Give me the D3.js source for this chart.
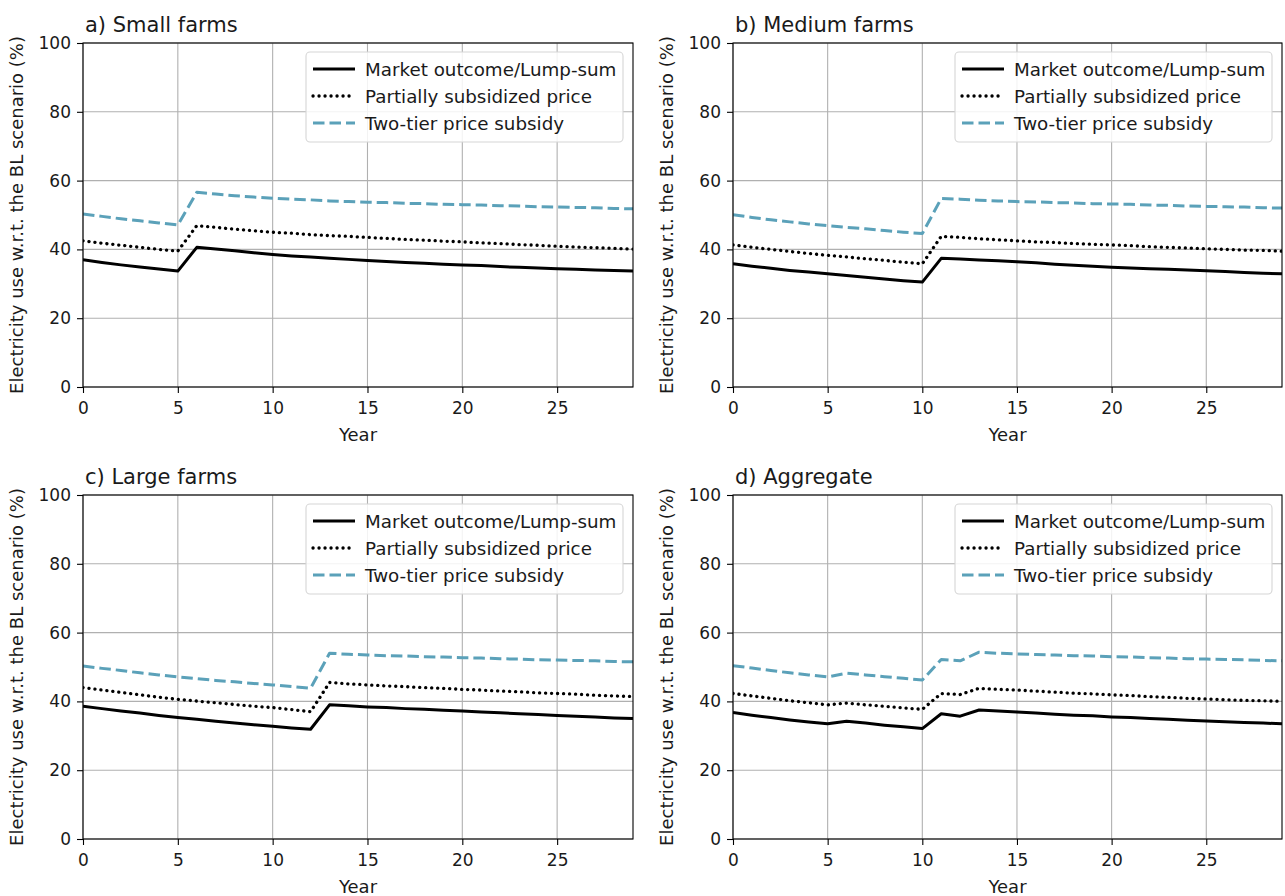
<!DOCTYPE html>
<html>
<head>
<meta charset="utf-8">
<script src="https://cdn.jsdelivr.net/npm/d3@7"></script>
<style>
  html, body { margin: 0; padding: 0; background: #fff; }
  svg { display: block; font-family: "DejaVu Sans", sans-serif; }
</style>
</head>
<body>
<svg id="chart" width="1285" height="896"></svg>
<script>
// Simulation horizon (years)
const years = [0, 1, 2, 3, 4, 5, 6, 7, 8, 9, 10, 11, 12, 13, 14, 15, 16, 17, 18, 19,
               20, 21, 22, 23, 24, 25, 26, 27, 28, 29];

// Electricity use relative to the BL scenario (%), per farm group and policy
const smallMarket = [37.0, 36.2, 35.5, 34.9, 34.3, 33.7, 40.6, 40.1, 39.6, 39.0, 38.5, 38.1, 37.8, 37.4, 37.1,
                     36.8, 36.5, 36.2, 36.0, 35.7, 35.5, 35.3, 35.0, 34.8, 34.6, 34.4, 34.2, 34.0, 33.9, 33.7];
const smallPartial = [42.5, 41.8, 41.2, 40.6, 40.0, 39.5, 46.9, 46.4, 45.9, 45.4, 45.0, 44.7, 44.3, 44.0, 43.8,
                      43.5, 43.2, 42.9, 42.7, 42.4, 42.2, 41.9, 41.7, 41.4, 41.2, 40.9, 40.7, 40.5, 40.3, 40.1];
const smallTwoTier = [50.3, 49.6, 48.9, 48.3, 47.7, 47.1, 56.6, 56.1, 55.6, 55.2, 54.9, 54.6, 54.4, 54.1, 53.9,
                      53.7, 53.6, 53.4, 53.3, 53.1, 53.0, 52.9, 52.7, 52.6, 52.4, 52.3, 52.2, 52.1, 51.9, 51.8];

const mediumMarket = [35.8, 35.1, 34.5, 33.9, 33.4, 32.9, 32.4, 31.9, 31.4, 30.9, 30.5, 37.4, 37.2, 36.9, 36.7,
                      36.4, 36.1, 35.7, 35.4, 35.1, 34.8, 34.6, 34.4, 34.2, 34.0, 33.8, 33.6, 33.3, 33.1, 32.9];
const mediumPartial = [41.3, 40.6, 40.0, 39.4, 38.8, 38.3, 37.8, 37.3, 36.8, 36.3, 35.8, 43.8, 43.5, 43.1, 42.8,
                       42.5, 42.2, 42.0, 41.7, 41.5, 41.3, 41.1, 40.8, 40.6, 40.4, 40.2, 40.0, 39.8, 39.7, 39.5];
const mediumTwoTier = [50.1, 49.3, 48.6, 48.0, 47.4, 46.9, 46.4, 46.0, 45.5, 45.0, 44.6, 54.8, 54.6, 54.3, 54.1,
                       53.9, 53.8, 53.6, 53.5, 53.3, 53.2, 53.1, 52.9, 52.8, 52.6, 52.5, 52.4, 52.3, 52.1, 52.0];

const largeMarket = [38.6, 37.9, 37.2, 36.6, 35.9, 35.3, 34.8, 34.2, 33.7, 33.2, 32.8, 32.3, 31.9, 39.0, 38.7,
                     38.4, 38.2, 37.9, 37.7, 37.4, 37.2, 36.9, 36.7, 36.4, 36.2, 35.9, 35.7, 35.5, 35.2, 35.0];
const largePartial = [44.0, 43.3, 42.6, 41.9, 41.2, 40.6, 40.1, 39.6, 39.1, 38.6, 38.2, 37.6, 37.0, 45.5, 45.1,
                      44.8, 44.5, 44.3, 44.0, 43.8, 43.5, 43.3, 43.0, 42.8, 42.5, 42.3, 42.1, 41.8, 41.6, 41.4];
const largeTwoTier = [50.3, 49.6, 49.0, 48.3, 47.7, 47.1, 46.6, 46.1, 45.7, 45.2, 44.8, 44.3, 43.8, 54.0, 53.7,
                      53.5, 53.3, 53.2, 53.0, 52.9, 52.7, 52.6, 52.4, 52.3, 52.1, 52.0, 51.9, 51.8, 51.6, 51.5];

const aggMarket = [36.8, 36.0, 35.3, 34.6, 34.0, 33.5, 34.2, 33.7, 33.1, 32.6, 32.1, 36.4, 35.7, 37.5, 37.2,
                   36.9, 36.6, 36.3, 36.0, 35.8, 35.5, 35.3, 35.0, 34.8, 34.5, 34.3, 34.1, 33.9, 33.7, 33.5];
const aggPartial = [42.3, 41.6, 40.9, 40.2, 39.6, 39.0, 39.5, 39.0, 38.6, 38.1, 37.7, 42.3, 42.0, 43.8, 43.5,
                    43.3, 43.0, 42.7, 42.4, 42.2, 41.9, 41.7, 41.4, 41.2, 40.9, 40.7, 40.5, 40.3, 40.2, 40.0];
const aggTwoTier = [50.4, 49.7, 49.0, 48.3, 47.7, 47.1, 48.2, 47.7, 47.2, 46.7, 46.2, 52.2, 51.8, 54.3, 54.0,
                    53.8, 53.6, 53.5, 53.3, 53.2, 53.0, 52.9, 52.7, 52.6, 52.4, 52.3, 52.2, 52.1, 51.9, 51.8];

const panelTitles = ["a) Small farms", "b) Medium farms", "c) Large farms", "d) Aggregate"];
const seriesNames = ["Market outcome/Lump-sum", "Partially subsidized price", "Two-tier price subsidy"];
const xTicks = [0, 5, 10, 15, 20, 25];
const yTicks = [0, 20, 40, 60, 80, 100];
const xLabel = "Year";
const yLabel = "Electricity use w.r.t. the BL scenario (%)";

const panelData = [
  [smallMarket, smallPartial, smallTwoTier],
  [mediumMarket, mediumPartial, mediumTwoTier],
  [largeMarket, largePartial, largeTwoTier],
  [aggMarket, aggPartial, aggTwoTier]
];

// Line styles: solid black, dotted black, dashed steel blue
const styles = [
  { stroke: "#000000", dash: null, width: 3, cap: "butt" },
  { stroke: "#000000", dash: "0.1 5.9", width: 3.3, cap: "round" },
  { stroke: "#5ba1b9", dash: "11.5 5", width: 3, cap: "butt" }
];

// Plot-area frames [left, top, right, bottom]
const frames = [
  [83, 43, 633, 387],
  [733, 43, 1282, 387],
  [83, 495, 633, 839],
  [733, 495, 1282, 839]
];

const textColor = "#1a1a1a";
const svg = d3.select("#chart");

panelData.forEach((series, i) => {
  const [L, T, R, B] = frames[i];
  const x = d3.scaleLinear().domain([0, 29]).range([L, R]);
  const y = d3.scaleLinear().domain([0, 100]).range([B, T]);
  const g = svg.append("g");

  // grid
  g.append("g").selectAll("line").data(xTicks).join("line")
    .attr("x1", d => x(d)).attr("x2", d => x(d)).attr("y1", T).attr("y2", B)
    .attr("stroke", "#b0b0b0").attr("stroke-width", 1.1);
  g.append("g").selectAll("line").data(yTicks).join("line")
    .attr("x1", L).attr("x2", R).attr("y1", d => y(d)).attr("y2", d => y(d))
    .attr("stroke", "#b0b0b0").attr("stroke-width", 1.1);

  // clip
  const clipId = "clip" + i;
  svg.append("clipPath").attr("id", clipId).append("rect")
    .attr("x", L).attr("y", T).attr("width", R - L).attr("height", B - T);

  const line = d3.line().x((d, k) => x(years[k])).y(d => y(d));
  const lines = g.append("g").attr("clip-path", `url(#${clipId})`);
  series.forEach((vals, s) => {
    const st = styles[s];
    lines.append("path").datum(vals)
      .attr("d", line)
      .attr("fill", "none")
      .attr("stroke", st.stroke)
      .attr("stroke-width", st.width)
      .attr("stroke-linecap", st.cap)
      .attr("stroke-linejoin", "round")
      .attr("stroke-dasharray", st.dash);
  });

  // axes
  const xAxis = d3.axisBottom(x).tickValues(xTicks).tickSize(6).tickPadding(9).tickFormat(d3.format("d"));
  const yAxis = d3.axisLeft(y).tickValues(yTicks).tickSize(6).tickPadding(6).tickFormat(d3.format("d"));
  const gx = g.append("g").attr("transform", `translate(0,${B})`).call(xAxis);
  const gy = g.append("g").attr("transform", `translate(${L},0)`).call(yAxis);
  [gx, gy].forEach(a => {
    a.select(".domain").remove();
    a.selectAll(".tick line").attr("stroke", "#000").attr("stroke-width", 1.1);
    a.selectAll(".tick text").attr("fill", textColor).style("font-size", "17px")
      .style("font-family", "'DejaVu Sans', sans-serif");
  });

  // spines
  g.append("rect").attr("x", L).attr("y", T).attr("width", R - L).attr("height", B - T)
    .attr("fill", "none").attr("stroke", "#000").attr("stroke-width", 1.1);

  // titles and axis labels
  g.append("text").attr("x", L + 2).attr("y", T - 11.5)
    .attr("fill", textColor).style("font-size", "21px").text(panelTitles[i]);
  g.append("text").attr("x", (L + R) / 2).attr("y", B + 54).attr("text-anchor", "middle")
    .attr("fill", textColor).style("font-size", "18px").text(xLabel);
  g.append("text")
    .attr("transform", `translate(${L - 60},${(T + B) / 2}) rotate(-90)`)
    .attr("text-anchor", "middle")
    .attr("fill", textColor).style("font-size", "18px").text(yLabel);

  // legend
  const lgW = 317, lgH = 90;
  const lgX = R - 10 - lgW, lgY = T + 9;
  const lg = g.append("g");
  lg.append("rect").attr("x", lgX).attr("y", lgY).attr("width", lgW).attr("height", lgH)
    .attr("rx", 4).attr("fill", "rgba(255,255,255,0.85)").attr("stroke", "#d6d6d6").attr("stroke-width", 1.1);
  seriesNames.forEach((name, s) => {
    const st = styles[s];
    const cy = lgY + 17 + s * 27;
    lg.append("line").attr("x1", lgX + 7).attr("x2", lgX + 49).attr("y1", cy).attr("y2", cy)
      .attr("stroke", st.stroke).attr("stroke-width", st.width)
      .attr("stroke-linecap", st.cap).attr("stroke-dasharray", st.dash);
    lg.append("text").attr("x", lgX + 59).attr("y", cy).attr("dominant-baseline", "central")
      .attr("fill", textColor).style("font-size", "18.3px").text(name);
  });
});
</script>
</body>
</html>
